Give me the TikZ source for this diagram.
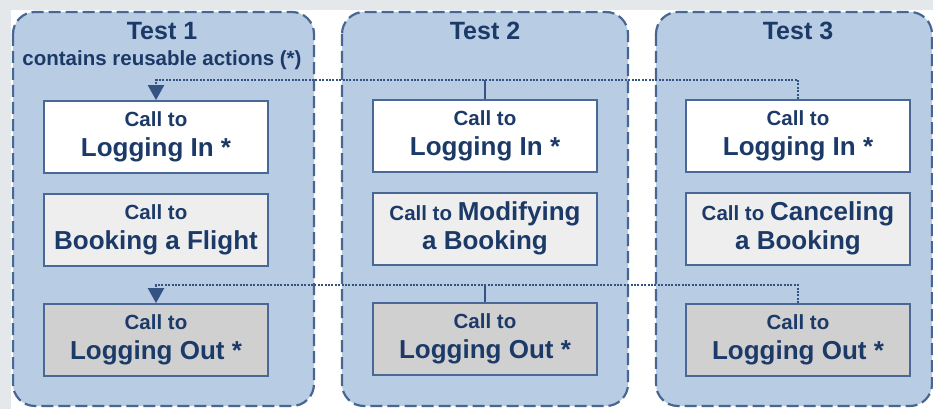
\documentclass[tikz,border=0pt]{standalone}
\usepackage{fontspec}
\setmainfont{Liberation Sans}
\usetikzlibrary{arrows.meta}
\definecolor{bggray}{RGB}{228,232,234}
\definecolor{panelfill}{RGB}{184,204,228}
\definecolor{paneledge}{RGB}{72,102,146}
\definecolor{navy}{RGB}{28,58,104}
\definecolor{boxedge}{RGB}{74,104,150}
\definecolor{dotcol}{RGB}{52,82,130}
\definecolor{fillA}{RGB}{255,255,255}
\definecolor{fillB}{RGB}{238,238,238}
\definecolor{fillC}{RGB}{208,208,208}
\newcommand\smallfs{\fontsize{20.5}{24}\selectfont\bfseries}
\newcommand\bigfs{\fontsize{26}{30}\selectfont\bfseries}
\newcommand\titlefs{\fontsize{25}{29}\selectfont\bfseries}
\tikzset{
  panel/.style={draw=paneledge, fill=panelfill, line width=2.2pt, dash pattern=on 12pt off 5pt, rounded corners=22pt},
  callbox/.style={draw=boxedge, line width=1.8pt, minimum width=224pt, minimum height=72pt, inner sep=0pt},
  txt/.style={text=navy, anchor=base, inner sep=0pt},
  dotline/.style={draw=dotcol, line width=2.4pt, dash pattern=on 2pt off 1.4pt},
  conn/.style={draw=dotcol, line width=2.2pt},
  tip/.style={-{Triangle[width=16pt,length=15pt,fill=dotcol]}}
}
\begin{document}
\begin{tikzpicture}[x=1pt,y=-1pt]
\useasboundingbox (0,0) rectangle (933,409);
\fill[bggray] (0,0) rectangle (933,409);
\fill[white] (11,10) rectangle (933,409);
% panels
\path[panel] (13,12) rectangle (314,406);
\path[panel] (342,12) rectangle (628,406);
\path[panel] (656,12) rectangle (932,406);
% titles
\node[txt, font=\titlefs] (t1) at (162,40) {Test 1};
\node[txt, font=\smallfs] (t1s) at (162,66) {contains reusable actions (*)};
\node[txt, font=\titlefs] (t2) at (485,40) {Test 2};
\node[txt, font=\titlefs] (t3) at (798,40) {Test 3};
% boxes
\node[callbox, fill=fillA] (l1) at (156,137) {};
\node[callbox, fill=fillA] (l2) at (485,136) {};
\node[callbox, fill=fillA] (l3) at (798,136) {};
\node[callbox, fill=fillB] (m1) at (156,230) {};
\node[callbox, fill=fillB] (m2) at (485,229) {};
\node[callbox, fill=fillB] (m3) at (798,229) {};
\node[callbox, fill=fillC] (o1) at (156,340) {};
\node[callbox, fill=fillC] (o2) at (485,339) {};
\node[callbox, fill=fillC] (o3) at (798,340) {};
% box texts
\node[txt, font=\smallfs] (l1a) at (156,126) {Call to};
\node[txt, font=\bigfs] (l1b) at (156,156) {Logging In *};
\node[txt, font=\smallfs] (l2a) at (485,125) {Call to};
\node[txt, font=\bigfs] (l2b) at (485,155) {Logging In *};
\node[txt, font=\smallfs] (l3a) at (798,125) {Call to};
\node[txt, font=\bigfs] (l3b) at (798,155) {Logging In *};
\node[txt, font=\smallfs] (m1a) at (156,219) {Call to};
\node[txt, font=\bigfs] (m1b) at (156,249) {Booking a Flight};
\node[txt] (m2a) at (485,220) {{\smallfs Call to }{\bigfs Modifying}};
\node[txt, font=\bigfs] (m2b) at (485,249) {a Booking};
\node[txt] (m3a) at (798,220) {{\smallfs Call to }{\bigfs Canceling}};
\node[txt, font=\bigfs] (m3b) at (798,249) {a Booking};
\node[txt, font=\smallfs] (o1a) at (156,329) {Call to};
\node[txt, font=\bigfs] (o1b) at (156,359) {Logging Out *};
\node[txt, font=\smallfs] (o2a) at (485,328) {Call to};
\node[txt, font=\bigfs] (o2b) at (485,358) {Logging Out *};
\node[txt, font=\smallfs] (o3a) at (798,329) {Call to};
\node[txt, font=\bigfs] (o3b) at (798,359) {Logging Out *};
% connectors
\coordinate (tline) at (0,80);
\coordinate (bline) at (0,285);
\draw[dotline, tip] (l3.north) -- (l3.north |- tline) -- (l1.north |- tline) -- (l1.north);
\draw[conn] (l2.north) -- (l2.north |- tline);
\draw[dotline, tip] (o3.north) -- (o3.north |- bline) -- (o1.north |- bline) -- (o1.north);
\draw[conn] (o2.north) -- (o2.north |- bline);
\end{tikzpicture}
\end{document}
